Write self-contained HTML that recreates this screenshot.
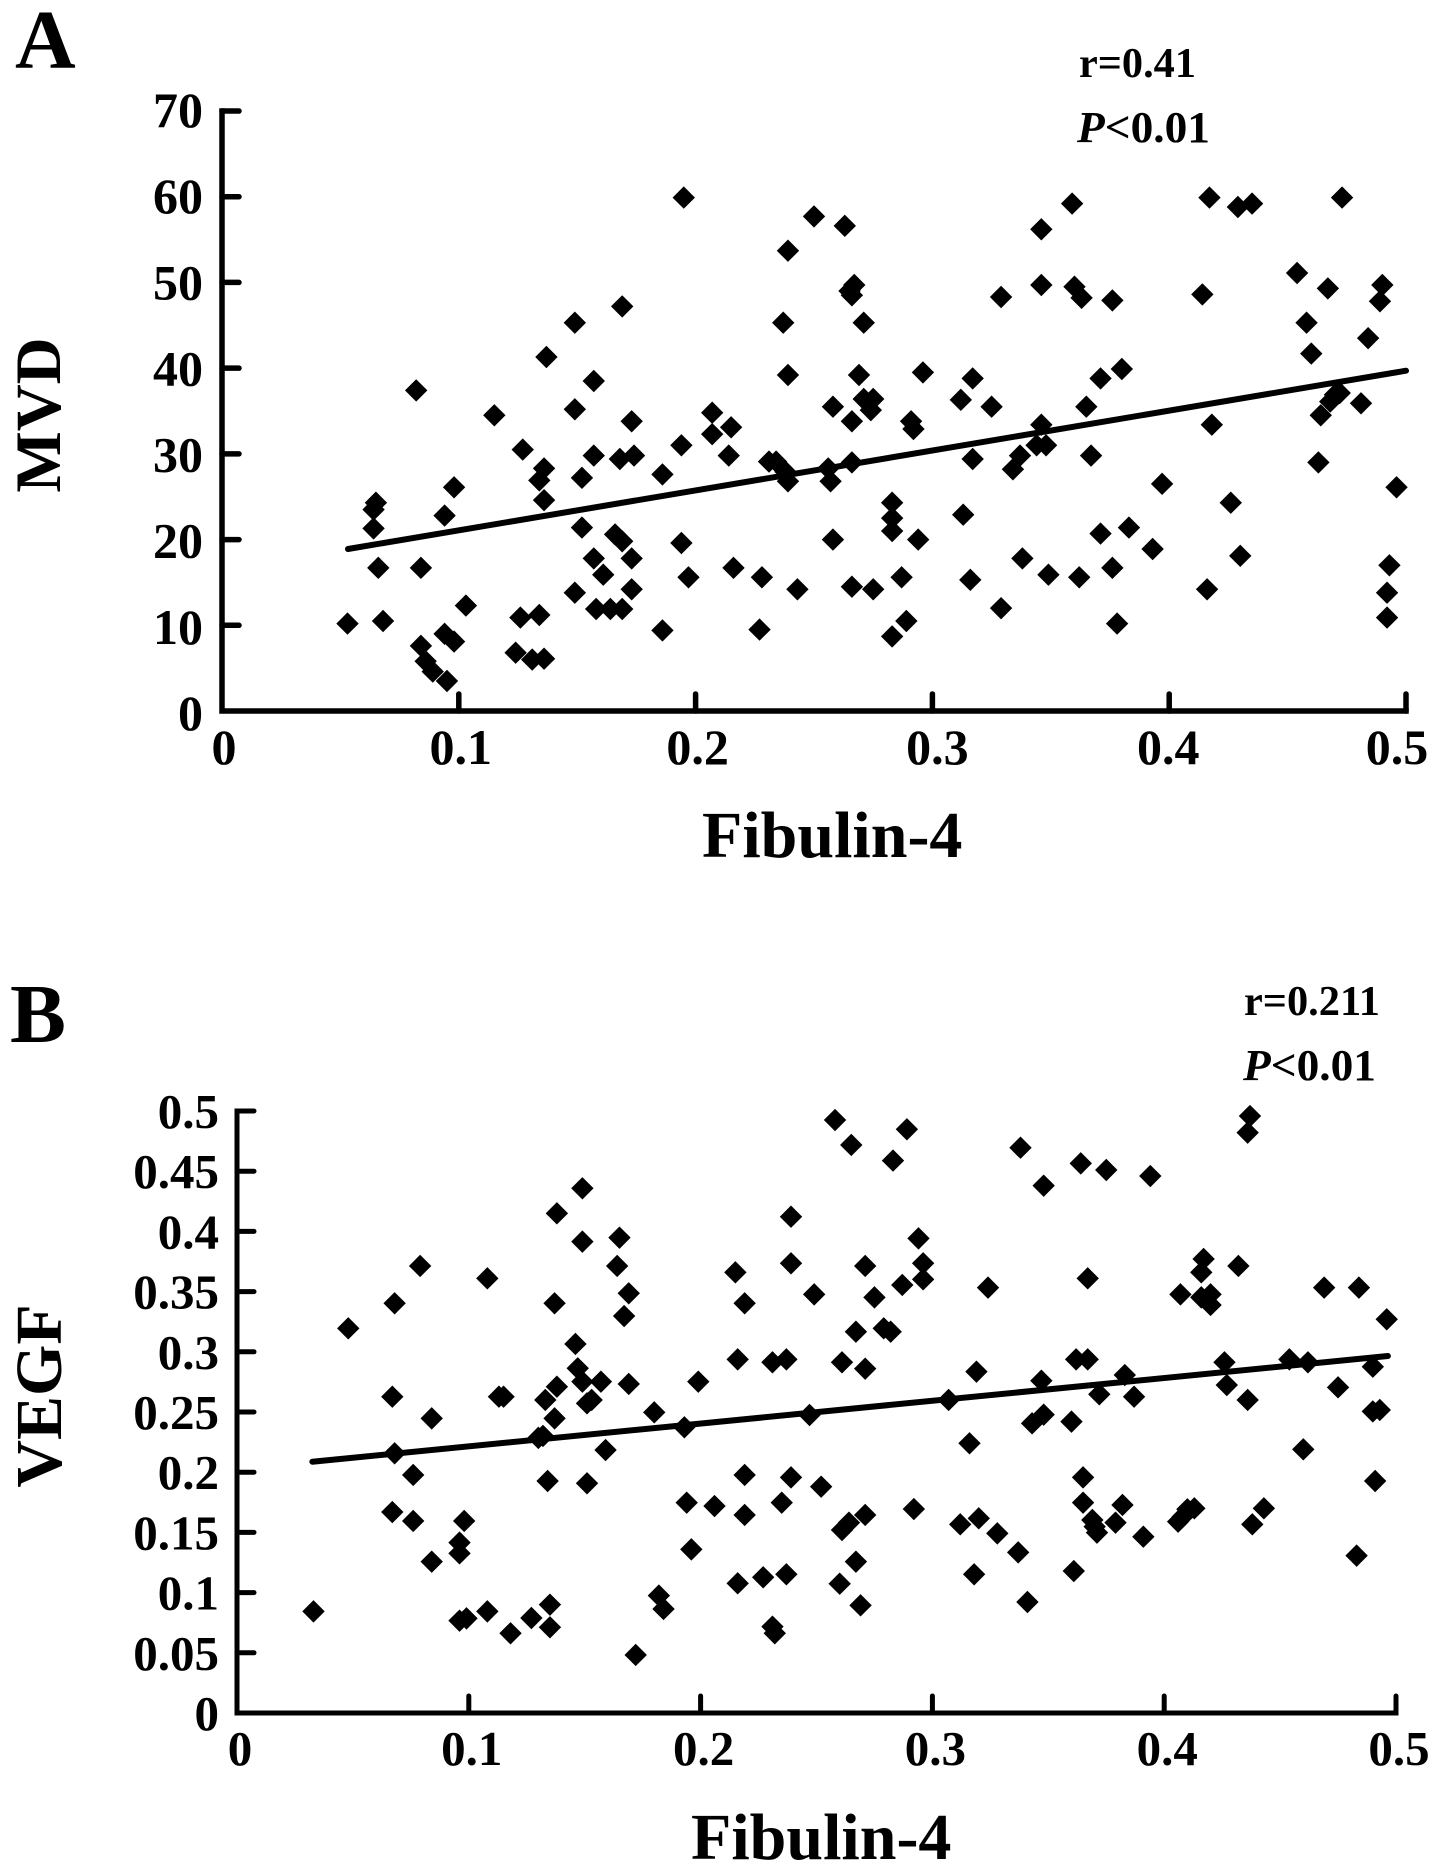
<!DOCTYPE html>
<html lang="en">
<head>
<meta charset="utf-8">
<title>Fibulin-4 correlation with MVD and VEGF</title>
<style>
html,body{margin:0;padding:0;background:#fff;}
svg{display:block;}
text{font-family:"Liberation Serif",serif;font-weight:bold;fill:#000;}
</style>
</head>
<body>
<svg id="figure" xmlns="http://www.w3.org/2000/svg" width="1441" height="1872" viewBox="0 0 1441 1872">
  <rect x="0" y="0" width="1441" height="1872" fill="#fff"/>
  <g id="panel-a">
    <text x="15" y="68" font-size="84">A</text>
    <text x="1079" y="77" font-size="42" textLength="117" lengthAdjust="spacingAndGlyphs">r=0.41</text>
    <text x="1077" y="142" font-size="44" textLength="133" lengthAdjust="spacingAndGlyphs"><tspan font-style="italic">P</tspan>&lt;0.01</text>
    <text transform="translate(60 415) rotate(-90)" text-anchor="middle" font-size="65">MVD</text>
    <text x="702" y="857" font-size="66">Fibulin-4</text>
  </g>
  <g id="panel-b">
    <text x="10" y="1042" font-size="84">B</text>
    <text x="1244" y="1015" font-size="42" textLength="136" lengthAdjust="spacingAndGlyphs">r=0.211</text>
    <text x="1243" y="1080" font-size="44" textLength="133" lengthAdjust="spacingAndGlyphs"><tspan font-style="italic">P</tspan>&lt;0.01</text>
    <text transform="translate(61 1396) rotate(-90)" text-anchor="middle" font-size="66">VEGF</text>
    <text x="691" y="1859" font-size="66">Fibulin-4</text>
  </g>
</svg>
<script>
const xTicks = [0, 0.1, 0.2, 0.3, 0.4, 0.5];
const xTickLabels = ["0", "0.1", "0.2", "0.3", "0.4", "0.5"];
const mvdTicks = [0, 10, 20, 30, 40, 50, 60, 70];
const mvdTickLabels = ["0", "10", "20", "30", "40", "50", "60", "70"];
const vegfTicks = [0, 0.05, 0.1, 0.15, 0.2, 0.25, 0.3, 0.35, 0.4, 0.45, 0.5];
const vegfTickLabels = ["0", "0.05", "0.1", "0.15", "0.2", "0.25", "0.3", "0.35", "0.4", "0.45", "0.5"];

const mvdTrendX = [0.0532, 0.5];
const mvdTrendY = [18.9, 39.7];
const vegfTrendX = [0.0325, 0.4965];
const vegfTrendY = [0.2087, 0.2965];

const mvdPairs = [
[.082,37.4],[.115,34.5],[.137,41.3],[.149,45.3],[.169,47.2],[.157,38.5],[.149,35.2],[.173,33.8],[.195,59.9],[.194,31.0],[.207,34.8],[.207,32.3],
[.127,30.5],[.136,28.3],[.134,26.9],[.136,24.6],[.157,29.8],[.168,29.4],[.174,29.8],[.152,27.2],[.186,27.6],
[.065,24.3],[.064,23.5],[.064,21.3],[.098,26.1],[.094,22.8],[.152,21.4],[.166,20.6],[.169,19.8],[.194,19.6],
[.157,17.8],[.173,17.8],[.161,15.9],[.197,15.6],[.066,16.7],[.084,16.7],[.149,13.8],[.173,14.2],[.103,12.3],
[.158,11.9],[.164,11.9],[.169,11.9],[.126,10.9],[.134,11.2],[.186,9.4],[.053,10.2],[.068,10.5],[.084,7.6],
[.094,9.0],[.098,8.1],[.086,5.8],[.089,4.6],[.095,3.5],[.124,6.8],[.131,6.0],[.136,6.1],
[.250,57.7],[.263,56.6],[.239,53.7],[.267,49.7],[.265,49.0],[.266,48.5],[.329,48.3],[.346,56.2],[.359,59.2],
[.346,49.7],[.360,49.5],[.363,48.2],[.376,47.9],[.417,59.9],[.429,58.8],[.435,59.2],[.473,59.9],[.414,48.6],
[.454,51.1],[.467,49.3],[.490,49.7],[.489,47.8],[.237,45.3],[.271,45.3],[.458,45.3],[.484,43.5],[.460,41.7],
[.239,39.2],[.269,39.2],[.296,39.5],[.317,38.8],[.380,39.9],[.371,38.8],[.258,35.5],[.266,33.8],[.271,36.4],
[.275,36.4],[.274,35.1],[.312,36.3],[.325,35.5],[.365,35.5],[.291,33.8],[.292,32.9],[.346,33.4],[.418,33.4],
[.464,34.5],[.481,35.9],[.470,36.9],[.468,36.1],[.472,37.1],[.215,33.1],
[.214,29.8],[.231,29.1],[.234,29.1],[.238,27.9],[.239,26.8],[.256,28.3],[.257,26.8],[.266,29.0],[.317,29.4],
[.337,29.8],[.334,28.2],[.344,31.0],[.348,31.0],[.367,29.8],[.463,29.0],[.496,26.1],[.397,26.5],[.426,24.3],
[.283,24.3],[.283,22.5],[.283,21.0],[.313,22.9],[.294,20.0],[.258,20.0],[.371,20.7],[.383,21.4],[.393,18.9],
[.338,17.8],[.430,18.1],[.376,16.7],[.349,15.9],[.362,15.6],[.316,15.3],[.287,15.6],[.266,14.5],[.275,14.2],
[.243,14.2],[.228,15.6],[.216,16.7],[.416,14.2],[.493,17.0],[.492,13.8],[.492,10.9],[.329,12.0],[.378,10.2],
[.227,9.5],[.289,10.5],[.283,8.7]
];

const vegfPairs = [
[.048,.3195],[.068,.3403],[.079,.3713],[.108,.3610],[.137,.3403],[.138,.4150],[.149,.4358],[.149,.3915],[.165,.3948],
[.164,.3713],[.169,.3486],[.167,.3297],[.146,.3065],[.147,.2863],[.149,.2752],[.157,.2752],[.153,.2600],[.151,.2572],
[.138,.2710],[.133,.2600],[.169,.2733],[.199,.2752],[.067,.2627],[.113,.2627],[.115,.2627],[.084,.2447],[.137,.2447],[.180,.2497],
[.132,.2301],[.130,.2285],[.068,.2157],[.193,.2373],[.159,.2184],[.076,.1977],[.134,.1927],[.151,.1908],[.067,.1669],[.076,.1595],
[.098,.1595],[.096,.1415],[.096,.1326],[.084,.1257],[.194,.1747],[.206,.1719],[.196,.1359],[.182,.0975],[.184,.0864],
[.033,.0844],[.096,.0767],[.099,.0786],[.108,.0844],[.127,.0789],[.135,.0900],[.135,.0712],[.118,.0662],[.172,.0482],
[.258,.4925],[.265,.4718],[.289,.4848],[.283,.4588],[.338,.4695],[.348,.4380],[.364,.4565],[.375,.4510],[.394,.4460],
[.437,.4958],[.436,.4820],[.239,.4122],[.294,.3942],[.239,.3735],[.271,.3713],[.296,.3735],[.296,.3602],[.287,.3555],
[.215,.3660],[.219,.3403],[.249,.3477],[.275,.3452],[.267,.3167],[.279,.3195],[.282,.3167],[.324,.3533],[.367,.3610],
[.417,.3771],[.416,.3660],[.432,.3713],[.407,.3477],[.416,.3452],[.420,.3477],[.420,.3389],[.469,.3533],[.484,.3533],[.496,.3270],
[.216,.2937],[.231,.2913],[.237,.2937],[.261,.2913],[.271,.2860],[.319,.2835],[.362,.2937],[.367,.2937],[.426,.2913],
[.454,.2937],[.462,.2913],[.490,.2876],[.347,.2760],[.383,.2807],[.427,.2724],[.475,.2705],[.372,.2647],[.387,.2627],
[.436,.2600],[.307,.2600],[.247,.2475],[.493,.2517],[.490,.2505],[.343,.2406],[.348,.2478],[.360,.2420],
[.316,.2240],[.460,.2190],[.491,.1927],[.219,.1977],[.239,.1957],[.252,.1880],[.365,.1957],[.235,.1747],[.365,.1747],
[.382,.1728],[.219,.1645],[.292,.1694],[.271,.1645],[.264,.1581],[.261,.1520],[.320,.1617],[.312,.1567],[.328,.1492],
[.337,.1334],[.369,.1603],[.371,.1498],[.370,.1548],[.379,.1581],[.391,.1464],[.406,.1589],[.410,.1692],[.413,.1700],
[.408,.1631],[.443,.1700],[.438,.1567],[.483,.1307],[.267,.1257],[.318,.1152],[.361,.1179],[.216,.1077],[.227,.1127],
[.237,.1152],[.260,.1074],[.269,.0894],[.341,.0922],[.231,.0717],[.232,.0662]
];

const SVG_NS = "http://www.w3.org/2000/svg";
const MARKER_RADIUS = 11.2;

function scale(d0, d1, r0, r1) {
  return function (v) { return r0 + (v - d0) / (d1 - d0) * (r1 - r0); };
}
function make(tag, parent) {
  const el = document.createElementNS(SVG_NS, tag);
  parent.appendChild(el);
  return el;
}

function drawPanel(cfg) {
  const root = document.getElementById(cfg.id);
  const x = cfg.x, y = cfg.y;

  const axes = make("path", root);
  
  
  axes.setAttribute("d", "M" + x(0) + " " + y(cfg.yMax) + "V" + y(0) + "H" + x(0.5));
  axes.setAttribute("fill", "none");
  axes.setAttribute("stroke", "#000");
  axes.setAttribute("stroke-width", cfg.axisWidth);
  axes.setAttribute("stroke-linecap", "square");
  axes.setAttribute("stroke-linejoin", "miter");

  cfg.yTicks.forEach(function (v, i) {
    if (v !== 0) {
      const t = make("line", root);
      
      
      t.setAttribute("x1", x(0));
      t.setAttribute("x2", x(0) + cfg.tickLen);
      t.setAttribute("y1", y(v));
      t.setAttribute("y2", y(v));
      t.setAttribute("stroke", "#000");
      t.setAttribute("stroke-width", cfg.axisWidth);
      t.setAttribute("stroke-linecap", "round");
    }
    const lab = make("text", root);
    
    
    lab.setAttribute("x", cfg.yLabelRight);
    lab.setAttribute("y", y(v) + cfg.yLabelDy(v));
    lab.setAttribute("text-anchor", "end");
    lab.setAttribute("font-size", cfg.tickFont);
    lab.textContent = cfg.yTickLabels[i];
  });

  xTicks.forEach(function (v, i) {
    if (v !== 0) {
      const t = make("line", root);
      
      
      t.setAttribute("x1", x(v));
      t.setAttribute("x2", x(v));
      t.setAttribute("y1", y(0));
      t.setAttribute("y2", y(0) - cfg.tickLen);
      t.setAttribute("stroke", "#000");
      t.setAttribute("stroke-width", cfg.axisWidth);
      t.setAttribute("stroke-linecap", "round");
    }
    const lab = make("text", root);
    
    
    lab.setAttribute("x", x(v) + cfg.xLabelDx(v));
    lab.setAttribute("y", cfg.xLabelBaseline);
    lab.setAttribute("text-anchor", "middle");
    lab.setAttribute("font-size", cfg.tickFont);
    lab.textContent = xTickLabels[i];
  });

  cfg.pairs.forEach(function (p) {
    const cx = x(p[0]), cy = y(p[1]), r = MARKER_RADIUS;
    const m = make("path", root);
    
    
    m.setAttribute("d", "M" + cx + " " + (cy - r) + "L" + (cx + r) + " " + cy + "L" + cx + " " + (cy + r) + "L" + (cx - r) + " " + cy + "Z");
    m.setAttribute("fill", "#000");
  });

  const trend = make("line", root);
  
  
  trend.setAttribute("x1", x(cfg.trendX[0]));
  trend.setAttribute("y1", y(cfg.trendY[0]));
  trend.setAttribute("x2", x(cfg.trendX[1]));
  trend.setAttribute("y2", y(cfg.trendY[1]));
  trend.setAttribute("stroke", "#000");
  trend.setAttribute("stroke-width", 6);
  trend.setAttribute("stroke-linecap", "round");
}

drawPanel({
  id: "panel-a",
  x: scale(0, 0.5, 222, 1406),
  y: scale(0, 70, 711, 111),
  yMax: 70,
  yTicks: mvdTicks,
  yTickLabels: mvdTickLabels,
  pairs: mvdPairs,
  trendX: mvdTrendX,
  trendY: mvdTrendY,
  axisWidth: 5.5,
  tickLen: 17,
  tickFont: 50,
  yLabelRight: 203,
  yLabelDy: function (v) { return 19 - 3 * v / 70; },
  xLabelDx: function (v) { return v === 0.5 ? -9 : (v === 0.4 ? -1 : (v === 0.3 ? 5 : 2)); },
  xLabelBaseline: 764
});

drawPanel({
  id: "panel-b",
  x: scale(0, 0.5, 237, 1396),
  y: scale(0, 0.5, 1713, 1111),
  yMax: 0.5,
  yTicks: vegfTicks,
  yTickLabels: vegfTickLabels,
  pairs: vegfPairs,
  trendX: vegfTrendX,
  trendY: vegfTrendY,
  axisWidth: 5,
  tickLen: 17,
  tickFont: 49,
  yLabelRight: 219,
  yLabelDy: function () { return 17; },
  xLabelDx: function () { return 3; },
  xLabelBaseline: 1765
});
</script>
</body>
</html>
